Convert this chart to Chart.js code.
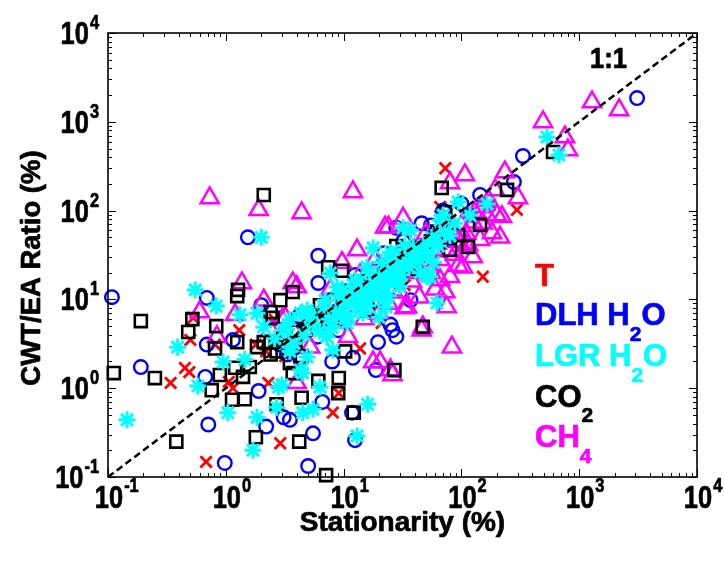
<!DOCTYPE html>
<html>
<head>
<meta charset="utf-8">
<script src="https://cdn.jsdelivr.net/npm/chart.js@4.4.1/dist/chart.umd.min.js"></script>
<style>
html,body{margin:0;padding:0;background:#fff;}
#wrap{width:725px;height:564px;}
</style>
</head>
<body>
<div id="wrap"><canvas id="c" width="725" height="564"></canvas></div>
<script>
// ---- data ----
const tickExponents = [-1, 0, 1, 2, 3, 4];
const seriesNames = ["T", "DLH H2O", "LGR H2O", "CO2", "CH4"];

const tX = [0.34,0.45,0.49,0.68,0.53,0.50,1.06,1.15,2.3,2.9,8.1,9.1,13.8,21,73,296,152,66,4.3,6.3,11.3,33,44,107,175,1.8,1.3,0.81,2.6,27,
            4,6,9,14,19,25,35,55,75,120,2.2,3.2];
const tY = [1.15,1.69,1.52,0.148,6.2,3.5,1.18,1.0,1.15,0.24,0.53,0.88,2.8,5.4,300,102,18,110,4.5,6.7,9.8,14.5,23,41,116,3.1,4.5,3.1,5.9,28,
            3.2,5,7.5,11,17,22,30,42,70,95,2.6,2.3];

const dlhX = [0.108,0.19,0.69,0.67,0.71,0.98,0.69,1.9,3.1,3.5,2.2,5.5,5.0,6.6,11.8,12.5,6.1,6.1,25,28,19.6,18.8,1.54,28,46,333,279,3100,26,15.2,10.3,2.9,3.9,7.7,12.5,44,80,118,144,1.15,2.0,4.3,37,66,
              4.2,6,9,14,18,22,32,55,70,100,3.3,24,50,12,8];
const dlhY = [10.6,1.73,3.1,1.34,0.39,0.144,10.4,0.93,0.47,0.44,0.37,0.31,0.133,0.70,0.53,0.26,31,15.3,5.2,3.8,3.3,1.6,50,64,72,412,210,1850,4.5,12.8,5.9,3.1,4.5,9.8,18.8,28,47,89,150,3.5,8.6,2.1,9.8,60,
              6.5,3.8,4.5,9.5,21,33,45,68,100,120,2.4,13,38,2.2,2.0];

const lgrX = [0.145,0.39,0.55,0.58,1.04,0.95,0.83,1.7,1.84,2.7,4.5,5.5,13,16,3.0,2.8,4.5,6.3,2.0,533,674,94,165,70,32,17.8,7.7,15.8,25,42,54,62,11.3,8.8,4.3,1.84,3.1,5.2,13.8,21.6,28,66,56,39,25,21.6,51,39,30,23,20,9.9,21.6,14.6,10.7,7.2,8.1,4.9,4.3,3.5,3.5,4.9,2.1,1.32,7.0,12.5,16.8,37,118,1.45,
              3.8,4.6,5.5,6.2,7.5,8.6,9.5,10.2,11.8,12.5,14,15.5,17,18.5,20,22,24,26,29,31,34,36,40,44,48,52,58,64,72,80,88,6.8,9,13,16.5,21,26,33,3.3,5,2.6,3.5,8,11,16,24,30,45,58];
const lgrY = [0.44,2.9,12.8,1.06,0.53,1.97,8.4,0.2,0.47,0.61,0.53,0.58,0.29,0.66,1.09,1.03,1.48,1.03,50,674,423,125,119,89,64,38,19.8,23,34,30,18,9.1,11.8,13.8,7.0,7.0,4.5,6.3,8.2,9.8,16.5,78,50,39,26,15.3,18,28,21,8.2,6.3,12.8,13.8,7.0,5.4,3.8,2.7,2.25,1.6,2.9,5.9,7.6,4.9,6.7,9.8,16.5,12.8,60,89,2.1,
              3.2,4.0,5.2,4.4,6.0,7.4,6.5,8.8,10.5,9.0,12,10.2,15,11.5,18,14.5,20,17,24,19,27,23,33,28,40,33,47,40,58,52,72,8.2,11,15.5,20,26,32,40,4.6,7,3.6,2.6,4.8,6.5,8.5,11,14,20,26];

const co2X = [0.112,0.19,0.25,0.38,0.52,0.48,0.76,1.25,0.83,0.81,1.13,1.45,1.4,1.2,1.25,1.8,4.2,7.1,2.9,3.7,2.7,4.4,6.1,9.1,9.0,12.2,7.4,9.7,27,2.1,2.4,1.84,1.6,2.4,2.5,3.5,3.7,2.1,68,244,47,28,32,80,114,73,600,1.27,10.3,3.2,4.1,5.2,6.3,8.5,11.3,15.2,19.6,25,37,49,94,144,0.89,
              3.0,3.4,2.7,4.8,5.8,7,8,11,14,17,22,28,34,42,55,62,40,30,20,16,3.9,2.4,4.4];
const co2Y = [1.48,5.7,1.3,0.25,6.0,4.3,0.95,10.9,5.0,2.8,0.74,0.75,1.34,1.7,3.3,0.28,0.25,0.105,9.8,12.1,0.66,0.78,1.21,1.3,0.88,0.53,23,21,1.6,3.3,3.3,2.9,1.73,7.2,6.2,1.92,1.48,150,180,171,4.9,40,37,36,39,96,457,12.8,2.6,4.0,5.9,6.7,8.6,9.8,11.2,14.5,15.7,20,26,32,53,69,1.41,
              3.6,3.0,2.6,4.6,5.4,7.2,6.2,12.5,16,13,24,30,25,38,45,58,22,18,9.8,7.5,3.3,2.4,2.3];

const ch4X = [0.73,1.9,1.37,4.4,12,24,13,9.7,3.7,493,107,80,234,302,193,32,182,144,200,152,103,80,75,47,34.5,26,62,112,125,83,165,125,114,75,94,73,44,33,46,26,2.1,1.2,0.6,0.84,3.0,17.8,20.4,25,4.0,3.2,5.2,4.0,10.9,1285,2180,757,803,221,213,22.5,7.7,13.8,18.5,40,54,66,6.3,2.4,
              50,60,70,85,95,100,130,150,170,45,55,38,30,24,20,66,88,110,60,36,15,12,9];
const ch4Y = [139,102,15.3,94,162,65,36,26,15.3,995,252,205,272,139,171,82,56,47,89,72,23,18,8.2,4.9,8.2,12.8,43,43,30,2.9,89,74,41,36,24,12.1,10.6,8.0,4.5,1.41,9.8,6.7,7.2,3.8,5.9,1.97,1.97,1.6,13.8,6.2,2.9,1.15,3.8,1670,1360,674,481,85,50,65,12.8,18.8,28,36,24,16.5,5.2,4.5,
              55,35,50,60,45,68,95,110,130,27,20,16,12,9,7,28,32,55,13,20,6,8.5,5.5];

const oneToOne = [0.1, 10000];

function pts(xs, ys){ return xs.map((x,i)=>({x:x, y:ys[i]})); }

const FONT = '"Liberation Sans", Arial, Helvetica, sans-serif';
function txt(ctx, s, x, y, size, color, align, sx){
  ctx.save();
  ctx.font = 'bold ' + size + 'px ' + FONT;
  ctx.fillStyle = color;
  ctx.strokeStyle = color;
  ctx.lineWidth = 0.7;
  ctx.lineJoin = 'round';
  ctx.textBaseline = 'alphabetic';
  ctx.textAlign = align || 'left';
  ctx.translate(x, y);
  ctx.scale(sx || 1, 1);
  ctx.fillText(s, 0, 0);
  ctx.strokeText(s, 0, 0);
  ctx.restore();
}
function tw(ctx, s, size, sx){
  ctx.save();
  ctx.font = 'bold ' + size + 'px ' + FONT;
  const w = ctx.measureText(s).width * (sx || 1);
  ctx.restore();
  return w;
}

const decor = {
  id: 'decor',
  afterDatasetsDraw(chart){
    const ctx = chart.ctx;
    const xs = chart.scales.x, ys = chart.scales.y;
    const a = chart.chartArea;
    ctx.save();
    ctx.strokeStyle = '#000';
    ctx.lineWidth = 1;
    const majL = 8, minL = 4;
    for (let k = tickExponents[0]; k <= tickExponents[tickExponents.length-1]; k++){
      for (let m = 1; m <= 9; m++){
        const v = m * Math.pow(10, k);
        if (v > 10000 * 1.0001) break;
        const L = (m === 1) ? majL : minL;
        const px = Math.round(xs.getPixelForValue(v)) + 0.5;
        const py = Math.round(ys.getPixelForValue(v)) + 0.5;
        ctx.beginPath();
        ctx.moveTo(px, a.bottom); ctx.lineTo(px, a.bottom - L);
        ctx.moveTo(px, a.top); ctx.lineTo(px, a.top + L);
        ctx.moveTo(a.left, py); ctx.lineTo(a.left + L, py);
        ctx.moveTo(a.right, py); ctx.lineTo(a.right - L, py);
        ctx.stroke();
      }
    }
    ctx.lineWidth = 1.6;
    ctx.strokeRect(a.left, a.top, a.right - a.left, a.bottom - a.top);

    const bigS = 31, supS = 20, sx = 0.82;
    tickExponents.forEach(k => {
      const v = Math.pow(10, k);
      const e = (k < 0) ? '-' + Math.abs(k) : String(k);
      const px = xs.getPixelForValue(v);
      const w10 = tw(ctx, '10', bigS, sx);
      txt(ctx, '10', px + 1, 508, bigS, '#000', 'center', sx);
      txt(ctx, e, px + 1 + w10/2 + 1, 492, supS, '#000', 'left', sx);
      const py = ys.getPixelForValue(v);
      const we = tw(ctx, e, supS, sx);
      const right = 99;
      txt(ctx, e, right - we, py - 4, supS, '#000', 'left', sx);
      txt(ctx, '10', right - we - 1, py + 11, bigS, '#000', 'right', sx);
    });

    txt(ctx, 'Stationarity (%)', (a.left + a.right)/2, 531, 28, '#000', 'center', 1);
    ctx.save();
    ctx.translate(40, 268);
    ctx.rotate(-Math.PI/2);
    txt(ctx, 'CWT/EA Ratio (%)', 0, 0, 27.5, '#000', 'center', 1);
    ctx.restore();

    txt(ctx, '1:1', 590, 68, 29, '#000', 'left', 0.88);

    const L = 535, S = 31, sub = 21;
    txt(ctx, 'T', L, 286, S, '#FF0000', 'left', 1);
    function withSub(pre, s, post, base, subBase, col){
      txt(ctx, pre, L, base, S, col, 'left', 1);
      let x = L + tw(ctx, pre, S, 1);
      txt(ctx, s, x, subBase, sub, col, 'left', 1);
      x += tw(ctx, s, sub, 1);
      if (post) txt(ctx, post, x, base, S, col, 'left', 1);
    }
    withSub('DLH H', '2', 'O', 325, 341, '#0000FF');
    withSub('LGR H', '2', 'O', 366, 382, '#00FFFF');
    withSub('CO', '2', '', 407, 422, '#000000');
    withSub('CH', '4', '', 447, 463, '#FF00FF');
    ctx.restore();
  }
};

const common = { showLine: false, clip: false, backgroundColor: 'rgba(0,0,0,0)' };

new Chart(document.getElementById('c'), {
  type: 'scatter',
  data: {
    datasets: [
      { type: 'line', label: '1:1', data: pts(oneToOne, oneToOne), borderColor: '#000', borderWidth: 2.5,
        borderDash: [7, 4], pointRadius: 0, fill: false, order: 0 },
      Object.assign({ label: seriesNames[2], data: pts(lgrX, lgrY), pointStyle: 'star', pointRadius: 8.5,
        borderColor: '#00FFFF', pointBorderWidth: 3, order: 1 }, common),
      Object.assign({ label: seriesNames[3], data: pts(co2X, co2Y), pointStyle: 'rect', pointRadius: 8.5,
        borderColor: '#000000', pointBorderWidth: 2.6, order: 2 }, common),
      Object.assign({ label: seriesNames[4], data: pts(ch4X, ch4Y), pointStyle: 'triangle', pointRadius: 10.5,
        borderColor: '#FF00FF', pointBorderWidth: 2.5, order: 3 }, common),
      Object.assign({ label: seriesNames[1], data: pts(dlhX, dlhY), pointStyle: 'circle', pointRadius: 6.8,
        borderColor: '#0000FF', pointBorderWidth: 2.4, order: 4 }, common),
      Object.assign({ label: seriesNames[0], data: pts(tX, tY), pointStyle: 'crossRot', pointRadius: 8,
        borderColor: '#FF0000', pointBorderWidth: 2.8, order: 5 }, common)
    ]
  },
  options: {
    responsive: false,
    animation: false,
    events: [],
    layout: { padding: { left: 108, top: 33, right: 28, bottom: 87 } },
    plugins: { legend: { display: false }, tooltip: { enabled: false } },
    scales: {
      x: { type: 'logarithmic', min: 0.1, max: 10000, display: false },
      y: { type: 'logarithmic', min: 0.1, max: 10000, display: false }
    },
    elements: { point: { hoverRadius: 0 } }
  },
  plugins: [decor]
});
</script>
</body>
</html>
